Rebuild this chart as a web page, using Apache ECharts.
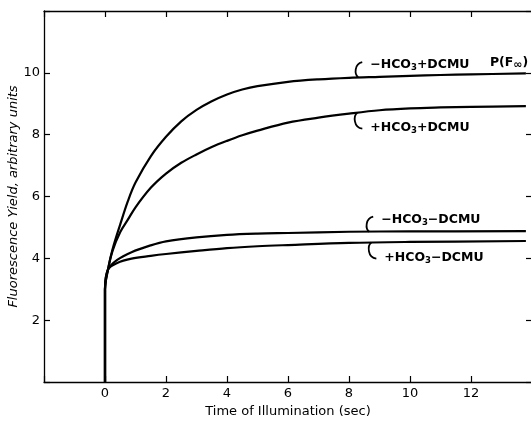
<!DOCTYPE html>
<html><head><meta charset="utf-8">
<script src="https://cdn.jsdelivr.net/npm/echarts@6/dist/echarts.min.js"></script>
<style>html,body{margin:0;padding:0;background:#fff}#c{width:531px;height:421px}</style>
</head><body><div id="c"></div>
<script>
// Time (sec), fluorescence yield pairs
const minusHCO3_plusDCMU = [[0,0],[0,3.0],[0.1,3.65],[0.25,4.3],[0.5,5.1],[0.75,5.85],[1.0,6.45],[1.5,7.3],[2.0,7.93],[2.5,8.43],[3.0,8.8],[3.5,9.08],[4.0,9.3],[4.5,9.46],[5.0,9.57],[6.0,9.71],[7.0,9.79],[8.0,9.84],[9.0,9.87],[10.0,9.9],[11.0,9.93],[12.0,9.95],[13.8,9.98]];
const plusHCO3_plusDCMU  = [[0,0],[0,3.0],[0.1,3.65],[0.25,4.25],[0.5,4.85],[0.75,5.25],[1.0,5.65],[1.5,6.28],[2.0,6.74],[2.5,7.09],[3.0,7.36],[3.5,7.6],[4.0,7.8],[4.5,7.98],[5.0,8.13],[6.0,8.39],[7.0,8.55],[8.0,8.68],[9.0,8.79],[10.0,8.85],[11.0,8.88],[12.0,8.9],[13.8,8.92]];
const minusHCO3_minusDCMU = [[0,0],[0,3.0],[0.1,3.64],[0.4,3.95],[0.87,4.2],[1.5,4.42],[2.0,4.55],[3.0,4.68],[4.0,4.76],[5.0,4.8],[6.0,4.82],[8.0,4.86],[10.0,4.87],[13.8,4.88]];
const plusHCO3_minusDCMU  = [[0,0],[0,3.0],[0.1,3.64],[0.4,3.85],[0.87,3.99],[1.5,4.08],[2.0,4.14],[3.0,4.24],[4.0,4.33],[5.0,4.39],[6.0,4.43],[8.0,4.5],[10.0,4.53],[13.8,4.56]];

const curveLabels = ['\u2212HCO{s|3}+DCMU', '+HCO{s|3}+DCMU', '\u2212HCO{s|3}\u2212DCMU', '+HCO{s|3}\u2212DCMU'];
const labelAnchors = [[8.27, 9.86], [8.24, 8.71], [8.63, 4.86], [8.7, 4.51]];
const labelBelow = [false, true, false, true];
const pLabel = 'P(F{inf|\u221E})';
const pAnchor = [12.62, 9.96];

const xTicks = [0, 2, 4, 6, 8, 10, 12];
const yTicks = [2, 4, 6, 8, 10];

const chart = echarts.init(document.getElementById('c'), null, {renderer: 'canvas'});
const FONT = 'DejaVu Sans';
const axisCommon = {
  axisLine: {show: true, onZero: false, lineStyle: {color: '#000', width: 1.3}},
  axisTick: {show: true, inside: true, length: 6, lineStyle: {color: '#000', width: 1.2}},
  splitLine: {show: false}
};
function mkSeries(name, data) {
  return {name, type: 'line', data, smooth: 0.35, showSymbol: false, symbol: 'none',
    lineStyle: {color: '#000', width: 2.2}, z: 3, animation: false};
}
chart.setOption({
  animation: false,
  backgroundColor: '#fff',
  grid: {left: 44, top: 11, width: 488, height: 371, containLabel: false, outerBoundsMode: 'none'},
  xAxis: [
    Object.assign({type: 'value', min: -2, max: 14, interval: 2, position: 'bottom',
      name: 'Time of Illumination (sec)', nameLocation: 'middle', nameGap: 23, nameMoveOverlap: false,
      nameTextStyle: {fontFamily: FONT, fontSize: 13, color: '#000'},
      axisLabel: {margin: 5, fontFamily: FONT, fontSize: 13, color: '#000',
        formatter: v => xTicks.includes(v) ? String(v) : ''}}, axisCommon),
    Object.assign({type: 'value', min: -2, max: 14, interval: 2, position: 'top',
      axisLabel: {show: false}}, axisCommon)
  ],
  yAxis: [
    Object.assign({type: 'value', min: 0, max: 12, interval: 2, position: 'left',
      name: 'Fluorescence Yield, arbitrary units', nameLocation: 'middle', nameGap: 24, nameMoveOverlap: false,
      nameTextStyle: {fontFamily: FONT, fontSize: 13, fontStyle: 'italic', color: '#000'},
      axisLabel: {margin: 4, fontFamily: FONT, fontSize: 13, color: '#000',
        formatter: v => yTicks.includes(v) ? String(v) : ''}}, axisCommon),
    Object.assign({type: 'value', min: 0, max: 12, interval: 2, position: 'right',
      axisLabel: {show: false}}, axisCommon)
  ],
  series: [
    mkSeries('-HCO3+DCMU', minusHCO3_plusDCMU),
    mkSeries('+HCO3+DCMU', plusHCO3_plusDCMU),
    mkSeries('-HCO3-DCMU', minusHCO3_minusDCMU),
    mkSeries('+HCO3-DCMU', plusHCO3_minusDCMU)
  ]
});

const rich = {
  s: {fontSize: 8.5, fontWeight: 600, fontFamily: FONT, color: '#000', verticalAlign: 'bottom', padding: [6, 0, 0, 0]},
  inf: {fontSize: 11, fontWeight: 600, fontFamily: FONT, color: '#000', verticalAlign: 'bottom', padding: [5, 0, 0, 0]}
};
const graphics = [];
curveLabels.forEach((txt, i) => {
  const p = chart.convertToPixel({gridIndex: 0}, labelAnchors[i]);
  const x = p[0], y = p[1];
  let shape;
  if (!labelBelow[i]) {
    shape = {x1: x + 5, y1: y - 15, x2: x + 1, y2: y, cpx1: x - 3, cpy1: y - 13, cpx2: x - 3, cpy2: y - 3};
  } else {
    shape = {x1: x + 1, y1: y, x2: x + 6, y2: y + 16, cpx1: x - 3, cpy1: y + 3, cpx2: x - 3, cpy2: y + 15};
  }
  graphics.push({type: 'bezierCurve', shape, style: {stroke: '#000', lineWidth: 1.8, fill: null}, z: 10});
  graphics.push({type: 'text', x: x + (labelBelow[i] ? 14 : 13), y: y + (labelBelow[i] ? 15 : -12), z: 10,
    style: {text: txt, rich, font: '600 12.5px "' + FONT + '"', fill: '#000', verticalAlign: 'middle', align: 'left'}});
});
const pp = chart.convertToPixel({gridIndex: 0}, pAnchor);
graphics.push({type: 'text', x: pp[0], y: pp[1] - 11, z: 10,
  style: {text: pLabel, rich, font: '600 12.5px "' + FONT + '"', fill: '#000', verticalAlign: 'middle', align: 'left'}});
chart.setOption({graphic: graphics});
</script></body></html>
